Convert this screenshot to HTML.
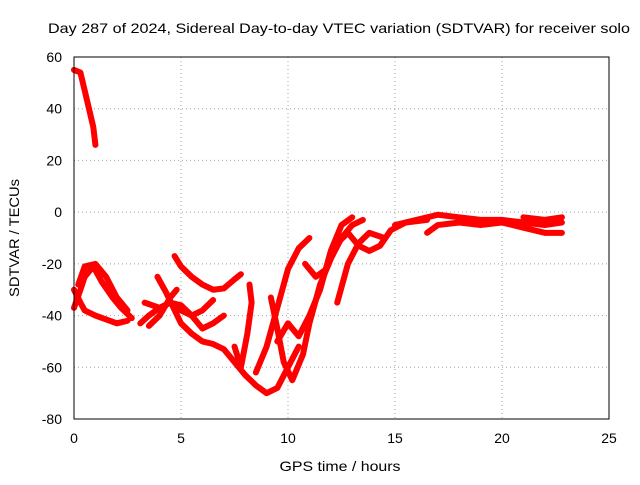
<!DOCTYPE html>
<html><head><meta charset="utf-8"><style>
body{margin:0;background:#fff}
svg text{font-family:"Liberation Sans",sans-serif;font-size:14px;fill:#000}
</style></head><body>
<svg id="chart" width="640" height="480">
<text x="339" y="33" text-anchor="middle" textLength="582" lengthAdjust="spacingAndGlyphs">Day 287 of 2024, Sidereal Day-to-day VTEC variation (SDTVAR) for receiver solo</text>
<g id="grid"></g><g id="ticks"></g><g id="series"></g>
<rect x="74" y="57" width="535" height="362" fill="none" stroke="#000"/>
<text x="340" y="471" text-anchor="middle" textLength="121" lengthAdjust="spacingAndGlyphs">GPS time / hours</text>
<text transform="translate(19,238) rotate(-90)" text-anchor="middle" textLength="118" lengthAdjust="spacingAndGlyphs">SDTVAR / TECUs</text>
</svg>
<script>
const xTicks=[0,5,10,15,20,25];
const yTicks=[60,40,20,0,-20,-40,-60,-80];
const track1=[[0,55],[0.3,54],[0.5,47],[0.7,40],[0.9,33],[1.0,26]];
const track2=[[0,-30],[0.3,-35],[0.5,-38],[1,-40],[2,-43],[2.5,-42]];
const track3=[[0,-37],[0.3,-30],[0.5,-25],[0.9,-21],[1.3,-27],[1.8,-33],[2.2,-37],[2.7,-41]];
const track4=[[0.2,-28],[0.5,-21],[1,-20],[1.5,-25],[2,-33],[2.5,-38]];
const track5=[[3.1,-43],[3.5,-40],[4,-37],[4.5,-35],[5,-36],[5.5,-40],[6,-45],[6.5,-43],[7,-40]];
const track6=[[3.3,-35],[4,-37],[4.5,-35],[5,-38],[5.5,-40],[6,-38],[6.5,-34]];
const track7=[[3.5,-44],[4,-40],[4.5,-33],[4.8,-30]];
const track8=[[3.9,-25],[4.3,-31],[5,-43],[5.5,-47],[6,-50],[6.5,-51],[7,-53],[7.5,-58],[8,-63],[8.5,-67],[9,-70],[9.5,-68],[10,-60],[10.5,-52]];
const track9=[[4.7,-17],[5,-21],[5.5,-25],[6,-28],[6.5,-30],[7,-29.5],[7.5,-26],[7.8,-24]];
const track10=[[7.5,-52],[7.8,-60],[8.1,-47],[8.3,-35],[8.2,-28]];
const track11=[[8.5,-62],[9,-52],[9.5,-37],[10,-22],[10.5,-14],[11,-10]];
const track12=[[9.2,-33],[9.5,-45],[9.8,-58],[10.2,-65],[10.7,-55],[11,-43],[11.5,-28],[12,-18],[12.5,-10],[13,-5],[13.5,-3]];
const track13=[[9.5,-50],[10,-43],[10.5,-48],[11,-40],[11.5,-30],[12,-15],[12.5,-5],[13,-2]];
const track14=[[10.8,-20],[11.3,-25],[11.8,-22],[12.3,-12],[12.8,-8],[13.3,-13],[13.8,-15],[14.3,-13],[14.8,-7],[15.5,-4],[16.5,-3]];
const track15=[[12.3,-35],[12.8,-20],[13.3,-12],[13.8,-8],[14.5,-10]];
const track16=[[15,-5],[16,-3],[17,-1],[18,-2],[19,-3],[20,-3],[21,-4],[22,-5],[22.8,-4]];
const track17=[[16.5,-8],[17,-5],[18,-4],[19,-5],[20,-4],[21,-6],[22,-8],[22.8,-8]];
const track18=[[21,-2],[22,-3],[22.8,-2]];
const tracks=[track1,track2,track3,track4,track5,track6,track7,track8,track9,track10,track11,track12,track13,track14,track15,track16,track17,track18];
const NS="http://www.w3.org/2000/svg";
function sx(v){return 74+v*(535/25);}
function sy(v){return 57+(60-v)*(362/140);}
function mk(t,a,p){const e=document.createElementNS(NS,t);for(const k in a)e.setAttribute(k,a[k]);p.appendChild(e);return e;}
const grid=document.getElementById('grid'),ticks=document.getElementById('ticks'),ser=document.getElementById('series');
xTicks.forEach(v=>{const x=sx(v);
 if(v>0&&v<25){const l=mk('line',{x1:x,x2:x,y1:57,y2:419,stroke:'#a0a0a0','stroke-dasharray':'1,3'},grid);
 
 }
 const t=mk('text',{x:x,y:443,'text-anchor':'middle'},ticks);t.textContent=v;
 
 
});
yTicks.forEach(v=>{const y=sy(v);
 if(v<60&&v>-80){const l=mk('line',{x1:74,x2:609,y1:y,y2:y,stroke:'#a0a0a0','stroke-dasharray':'1,3'},grid);
 
 }
 const t=mk('text',{x:62,y:y+5,'text-anchor':'end'},ticks);t.textContent=v;
 
 
});
tracks.forEach((tr,i)=>{
 const p=mk('polyline',{points:tr.map(d=>sx(d[0])+','+sy(d[1])).join(' '),fill:'none',stroke:'#f00','stroke-width':6,'stroke-linejoin':'round','stroke-linecap':'round'},ser);
 
 
});
</script>
</body></html>
